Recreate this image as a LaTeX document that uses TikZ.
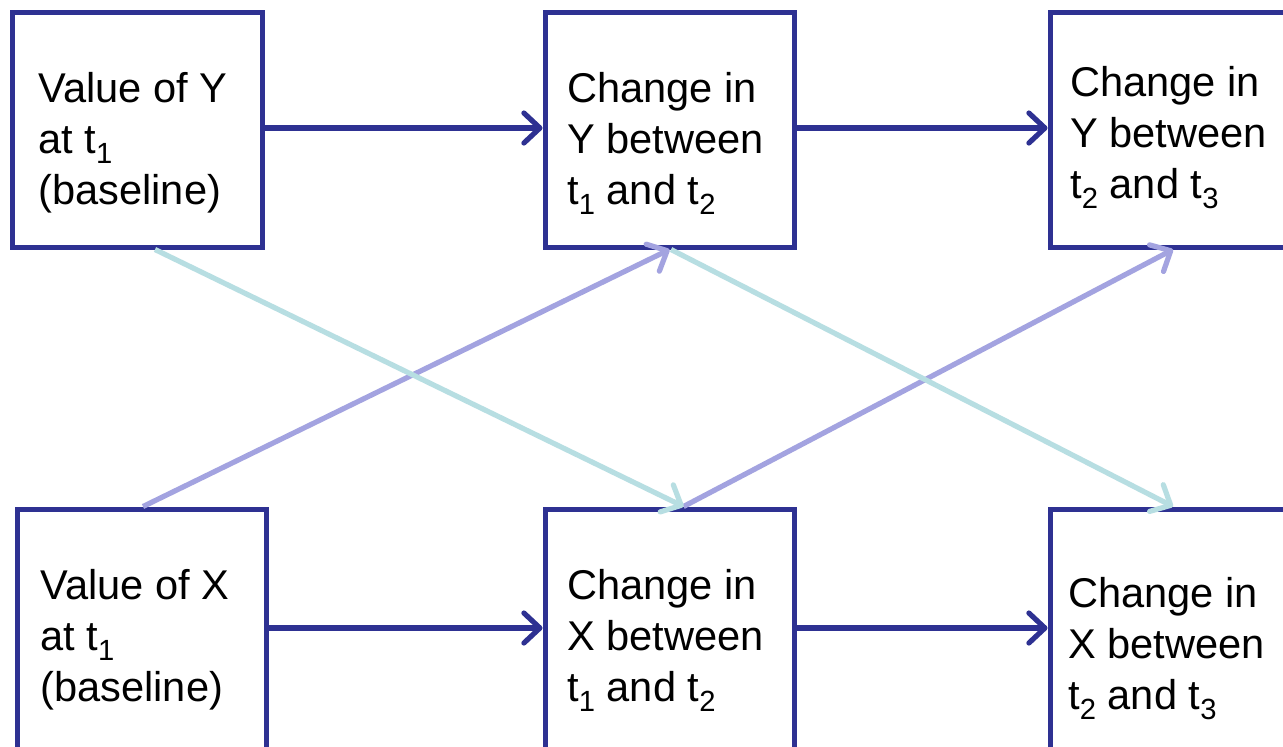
\documentclass[tikz,border=0pt]{standalone}
\usepackage{fontspec}
\setmainfont{Liberation Sans}
\usetikzlibrary{arrows.meta}
\definecolor{boxblue}{RGB}{46,49,146}
\definecolor{lav}{RGB}{163,163,224}
\definecolor{cyanl}{RGB}{183,222,226}
\newcommand{\mysubs}[1]{\raisebox{-0.24em}{\fontsize{14.6pt}{14.6pt}\selectfont #1}}
\tikzset{
  box/.style={draw=boxblue, line width=2.5pt, rectangle, inner sep=0pt, fill=white},
  lbl/.style={anchor=north west, inner sep=0pt, align=left, font=\fontsize{20.8pt}{25.5pt}\selectfont},
  conn/.style={line width=2.6pt, line cap=round, -{Straight Barb[length=8pt,width=15pt,line cap=round,line join=round]}},
  hconn/.style={conn, draw=boxblue},
  lconn/.style={conn, draw=lav},
  cconn/.style={conn, draw=cyanl},
}
\begin{document}
\begin{tikzpicture}[x=0.5pt,y=-0.5pt]
\useasboundingbox (0,0) rectangle (1283,746);
\clip (0,0) rectangle (1283,746);
\fill[white] (0,0) rectangle (1283,746);
% boxes
\node[box, minimum width=125pt, minimum height=117.5pt] (y1) at (137,129.5) {};
\node[box, minimum width=124.5pt, minimum height=117.5pt] (y2) at (669.5,129.5) {};
\node[box, minimum width=130pt, minimum height=117.5pt] (y3) at (1180,129.5) {};
\node[box, minimum width=124.5pt, minimum height=130.5pt] (x1) at (141.5,639.5) {};
\node[box, minimum width=124.5pt, minimum height=130.5pt] (x2) at (669.5,639.5) {};
\node[box, minimum width=130pt, minimum height=130.5pt] (x3) at (1180,639.5) {};
% labels
\node[lbl] (ty1) at (38,72) {Value of Y\\at t\mysubs{1}\\(baseline)};
\node[lbl] (ty2) at (567,72) {Change in\\Y between\\t\mysubs{1} and t\mysubs{2}};
\node[lbl] (ty3) at (1070,65.5) {Change in\\Y between\\t\mysubs{2} and t\mysubs{3}};
\node[lbl] (tx1) at (40,569) {Value of X\\at t\mysubs{1}\\(baseline)};
\node[lbl] (tx2) at (567,569) {Change in\\X between\\t\mysubs{1} and t\mysubs{2}};
\node[lbl] (tx3) at (1068,577) {Change in\\X between\\t\mysubs{2} and t\mysubs{3}};
% horizontal arrows
\coordinate (yrow) at (0,128);
\coordinate (xrow) at (0,628);
\draw[hconn] (y1.east |- yrow) -- (y2.west |- yrow);
\draw[hconn] (y2.east |- yrow) -- (y3.west |- yrow);
\draw[hconn] (x1.east |- xrow) -- (x2.west |- xrow);
\draw[hconn] (x2.east |- xrow) -- (x3.west |- xrow);
% diagonal arrows
\draw[lconn, line cap=butt] ([xshift=0.75pt]x1.north) -- (y2.south);
\draw[lconn, line cap=butt] ([xshift=7pt]x2.north) -- ([xshift=-3.5pt]y3.south);
\draw[cconn, line cap=butt] ([xshift=9pt]y1.south) -- ([xshift=7pt]x2.north);
\draw[cconn, line cap=butt] ([xshift=0.75pt]y2.south) -- ([xshift=-3.5pt]x3.north);
\end{tikzpicture}
\end{document}
